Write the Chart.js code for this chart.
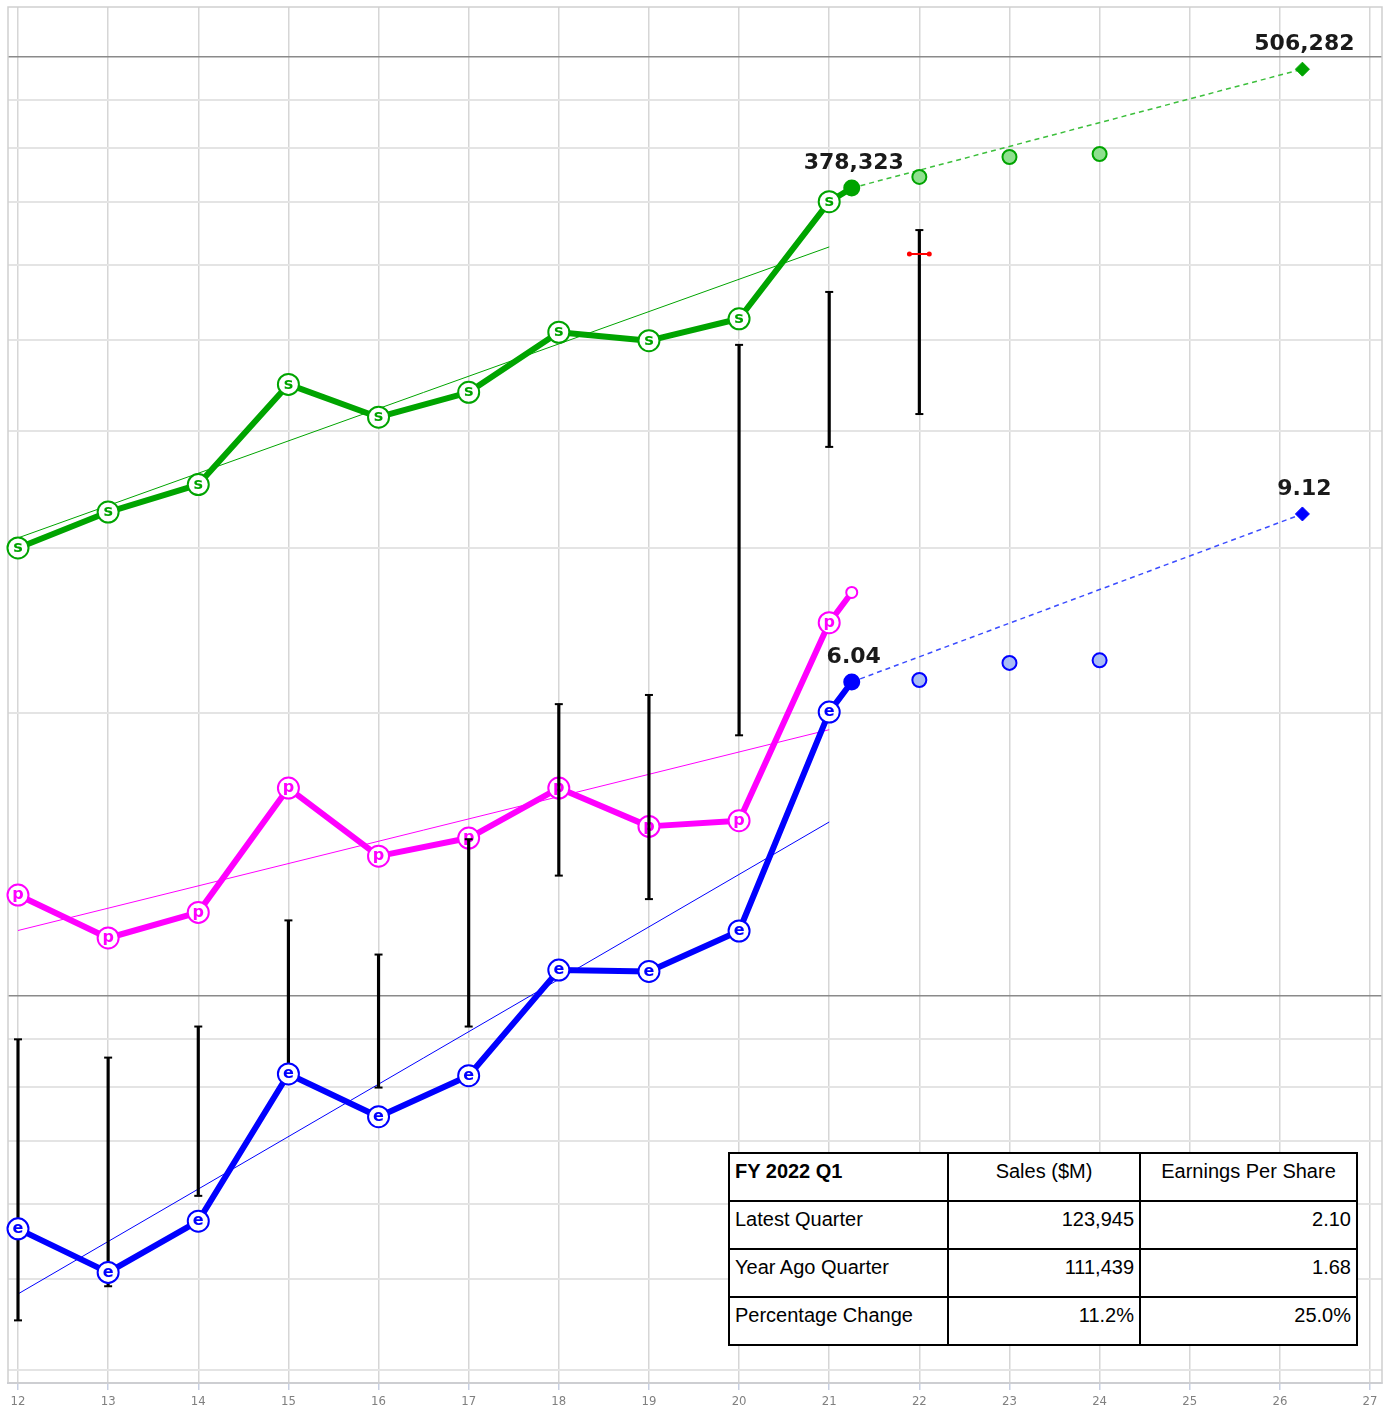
<!DOCTYPE html>
<html>
<head>
<meta charset="utf-8">
<script src="https://cdn.jsdelivr.net/npm/chart.js@4.4.1/dist/chart.umd.min.js"></script>
<style>
  body { margin: 0; background: #fff; overflow: hidden; }
  #wrap { position: relative; width: 1390px; height: 1410px; }
  #summary {
    position: absolute; left: 728px; top: 1152px; width: 628px;
    border-collapse: collapse; table-layout: fixed; background: #fff;
    font: 20px "Liberation Sans", Arial, sans-serif; color: #000;
  }
  #summary td {
    border: 2px solid #000; height: 34px; padding: 6px 5px 6px 5px;
    vertical-align: top; white-space: nowrap; overflow: hidden;
  }
  #summary td.num { text-align: right; }
  #summary td.head { text-align: center; }
  #summary td.first { font-weight: bold; }
</style>
</head>
<body>
<div id="wrap">
  <canvas id="chart" width="1390" height="1410"></canvas>
  <table id="summary">
    <colgroup><col style="width:219px"><col style="width:192px"><col style="width:217px"></colgroup>
    <tbody></tbody>
  </table>
</div>
<script>
// fiscal years (x) and yearly values
const years = [12, 13, 14, 15, 16, 17, 18, 19, 20, 21];
const sales = [156508, 170910, 182795, 233715, 215639, 229234, 265595, 260174, 274515, 365817];
const eps = [1.58, 1.42, 1.61, 2.31, 2.08, 2.30, 2.98, 2.97, 3.28, 5.61];
const pValues = [12.0, 10.8, 11.5, 15.6, 13.2, 13.8, 15.6, 14.2, 14.4, 23.4];

// trailing twelve months point
const ttmX = 21.25;
const salesTTM = 378323;
const epsTTM = 6.04;
const pTTM = 25.2;

// estimates and targets
const estYears = [22, 23, 24];
const salesEst = [388700, 408200, 411200];
const epsEst = [6.07, 6.33, 6.37];
const targetX = 26.25;
const salesTarget = 506282;
const epsTarget = 9.12;

// yearly price ranges
const rangeYears = [12, 13, 14, 15, 16, 17, 18, 19, 20, 21, 22];
const priceHigh = [25.1, 24.0, 25.9, 33.6, 30.9, 41.0, 57.1, 58.4, 137.8, 156.9, 182.6];
const priceLow = [12.6, 13.7, 17.1, 22.9, 22.3, 25.9, 37.5, 35.4, 52.9, 107.3, 116.3];
const currentX = 22;
const currentPrice = 172.2;

// trend lines
const trendX = [12, 21];
const salesTrend = [160400, 327400];
const pTrend = [11.0, 18.0];
const epsTrend = [1.347, 4.285];

// axis ticks
const xTicks = [12, 13, 14, 15, 16, 17, 18, 19, 20, 21, 22, 23, 24, 25, 26, 27];
const gridTicks = [40000, 50000, 60000, 70000, 80000, 90000, 100000,
  200000, 300000, 400000, 500000, 600000, 700000, 800000, 900000, 1000000];

// summary table
const tableHead = ['FY 2022 Q1', 'Sales ($M)', 'Earnings Per Share'];
const tableRows = [
  ['Latest Quarter', '123,945', '2.10'],
  ['Year Ago Quarter', '111,439', '1.68'],
  ['Percentage Change', '11.2%', '25.0%']
];

const green = '#00a400', magenta = '#ff00ff', blue = '#0000ff';
const LOG_SPAN = 1376 / 939;   // decades shown over the plot height

function pts(xs, ys) { return xs.map((x, i) => ({ x: x, y: ys[i] })); }
function logAxis(max) {
  return { type: 'logarithmic', display: false, min: max / Math.pow(10, LOG_SPAN), max: max };
}
const fmtSales = v => v.toLocaleString('en-US');
const fmtEps = v => v.toFixed(2);

function series(values, ttm, color, axis, letter, ttmR, ttmFill, order) {
  return {
    type: 'line', yAxisID: axis, order: order, letter: letter,
    data: pts(years, values).concat([{ x: ttmX, y: ttm }]),
    borderColor: color, borderWidth: 6, borderJoinStyle: 'round', tension: 0, clip: false,
    pointRadius: c => c.dataIndex < years.length ? 10.5 : ttmR,
    pointBackgroundColor: c => c.dataIndex < years.length ? '#fff' : ttmFill,
    pointBorderColor: color, pointBorderWidth: 2
  };
}
function trend(values, color, axis) {
  return { type: 'line', yAxisID: axis, order: 12, data: pts(trendX, values),
    borderColor: color, borderWidth: 1, pointRadius: 0 };
}
function projection(fromY, toY, color, lineColor, axis, fmt) {
  return { type: 'line', yAxisID: axis, order: 10, clip: false,
    data: [{ x: ttmX, y: fromY }, { x: targetX, y: toY }],
    borderColor: lineColor, borderWidth: 1.5, borderDash: [5, 4],
    pointRadius: [0, 7], pointStyle: 'rectRot',
    pointBackgroundColor: color, pointBorderColor: color, pointBorderWidth: 1,
    valueLabels: [1], fmt: fmt };
}
function estimates(values, color, fill, axis) {
  return { type: 'line', yAxisID: axis, order: 4, showLine: false, clip: false,
    data: pts(estYears, values), pointRadius: 7,
    pointBackgroundColor: fill, pointBorderColor: color, pointBorderWidth: 2 };
}

const salesSet = series(sales, salesTTM, green, 'ySales', 's', 7.5, green, 2);
salesSet.valueLabels = [years.length]; salesSet.fmt = fmtSales;
const epsSet = series(eps, epsTTM, blue, 'yEps', 'e', 7.5, blue, 1);
epsSet.valueLabels = [years.length]; epsSet.fmt = fmtEps;
const pSet = series(pValues, pTTM, magenta, 'yP', 'p', 5.5, '#fff', 8);

const letterPlugin = {
  id: 'letters',
  afterDatasetDraw(chart, args) {
    const ds = chart.data.datasets[args.index];
    if (!ds.letter) return;
    const ctx = chart.ctx;
    ctx.save();
    ctx.font = 'bold 16px "DejaVu Sans"';
    ctx.fillStyle = ds.borderColor;
    ctx.textAlign = 'center';
    ctx.textBaseline = 'middle';
    args.meta.data.forEach((el, i) => {
      if (i < years.length) ctx.fillText(ds.letter, el.x, el.y);
    });
    ctx.restore();
  }
};

const labelPlugin = {
  id: 'valueLabels',
  afterDatasetsDraw(chart) {
    const ctx = chart.ctx;
    ctx.save();
    ctx.font = 'bold 22px "DejaVu Sans"';
    ctx.fillStyle = '#1a1a1a';
    ctx.textAlign = 'center';
    ctx.textBaseline = 'alphabetic';
    chart.data.datasets.forEach((ds, di) => {
      if (!ds.valueLabels) return;
      const meta = chart.getDatasetMeta(di);
      ds.valueLabels.forEach(i => {
        const el = meta.data[i];
        ctx.fillText(ds.fmt(ds.data[i].y), el.x + 2, el.y - 19);
      });
    });
    ctx.restore();
  }
};

const framePlugin = {
  id: 'frame',
  beforeDatasetsDraw(chart) {
    const a = chart.chartArea, ctx = chart.ctx;
    ctx.save();
    ctx.strokeStyle = '#cfcfcf';
    ctx.lineWidth = 1.5;
    ctx.strokeRect(a.left, a.top, a.right - a.left, a.bottom - a.top);
    ctx.restore();
  }
};

new Chart(document.getElementById('chart'), {
  type: 'line',
  data: {
    datasets: [
      epsSet,
      salesSet,
      estimates(salesEst, green, '#8fe08f', 'ySales'),
      estimates(epsEst, blue, '#a9bcf5', 'yEps'),
      { type: 'line', yAxisID: 'yPrice', order: 5,
        data: [{ x: currentX - 0.11, y: currentPrice }, { x: currentX + 0.11, y: currentPrice }],
        borderColor: '#ff0000', borderWidth: 2, pointRadius: 2.5,
        pointBackgroundColor: '#ff0000', pointBorderWidth: 0 },
      { type: 'line', yAxisID: 'yPrice', order: 6, showLine: false,
        data: rangeYears.flatMap((x, i) => [{ x: x, y: priceLow[i] }, { x: x, y: priceHigh[i] }]),
        pointStyle: 'line', pointRadius: 4, pointBorderWidth: 2, pointBorderColor: '#000' },
      { type: 'bar', yAxisID: 'yPrice', order: 7,
        data: rangeYears.map((x, i) => ({ x: x, y: [priceLow[i], priceHigh[i]] })),
        backgroundColor: '#000', barThickness: 2.5, borderWidth: 0 },
      pSet,
      projection(salesTTM, salesTarget, green, '#3cbf3c', 'ySales', fmtSales),
      projection(epsTTM, epsTarget, blue, '#3b4cff', 'yEps', fmtEps),
      trend(salesTrend, green, 'ySales'),
      trend(pTrend, magenta, 'yP'),
      trend(epsTrend, blue, 'yEps')
    ]
  },
  options: {
    responsive: false,
    animation: false,
    events: [],
    layout: { autoPadding: false, padding: { left: 8, right: 8, top: 7, bottom: -4 } },
    plugins: { legend: { display: false }, tooltip: { enabled: false } },
    scales: {
      x: {
        type: 'linear', min: 11.889, max: 27.133, offset: false,
        afterBuildTicks: s => { s.ticks = xTicks.map(v => ({ value: v })); },
        grid: { offset: false, color: '#d6d6d6', lineWidth: 1.5, tickLength: 7, tickColor: '#c7cfe2' },
        border: { color: '#c5cbd8', width: 2 },
        ticks: { color: '#808080', padding: 4.2, font: { family: '"DejaVu Sans Condensed", "DejaVu Sans"', size: 13 } }
      },
      yGrid: {
        type: 'logarithmic', position: 'left',
        min: 1130400 / Math.pow(10, LOG_SPAN), max: 1130400,
        afterBuildTicks: s => { s.ticks = gridTicks.map(v => ({ value: v })); },
        ticks: { display: false },
        border: { display: false },
        grid: {
          drawTicks: false,
          color: c => (c.tick && (c.tick.value === 100000 || c.tick.value === 1000000)) ? '#8a8a8a' : '#e4e4e4',
          lineWidth: c => (c.tick && (c.tick.value === 100000 || c.tick.value === 1000000)) ? 1.5 : 2
        }
      },
      ySales: logAxis(589660),
      yEps: logAxis(31.615),
      yPrice: logAxis(315.55),
      yP: logAxis(105.90)
    }
  },
  plugins: [framePlugin, letterPlugin, labelPlugin]
});

// summary table
const tbody = document.querySelector('#summary tbody');
[tableHead].concat(tableRows).forEach((row, r) => {
  const tr = document.createElement('tr');
  row.forEach((text, c) => {
    const td = document.createElement('td');
    td.textContent = text;
    if (r === 0 && c === 0) td.className = 'first';
    else if (r === 0) td.className = 'head';
    else if (c > 0) td.className = 'num';
    tr.appendChild(td);
  });
  tbody.appendChild(tr);
});
</script>
</body>
</html>
